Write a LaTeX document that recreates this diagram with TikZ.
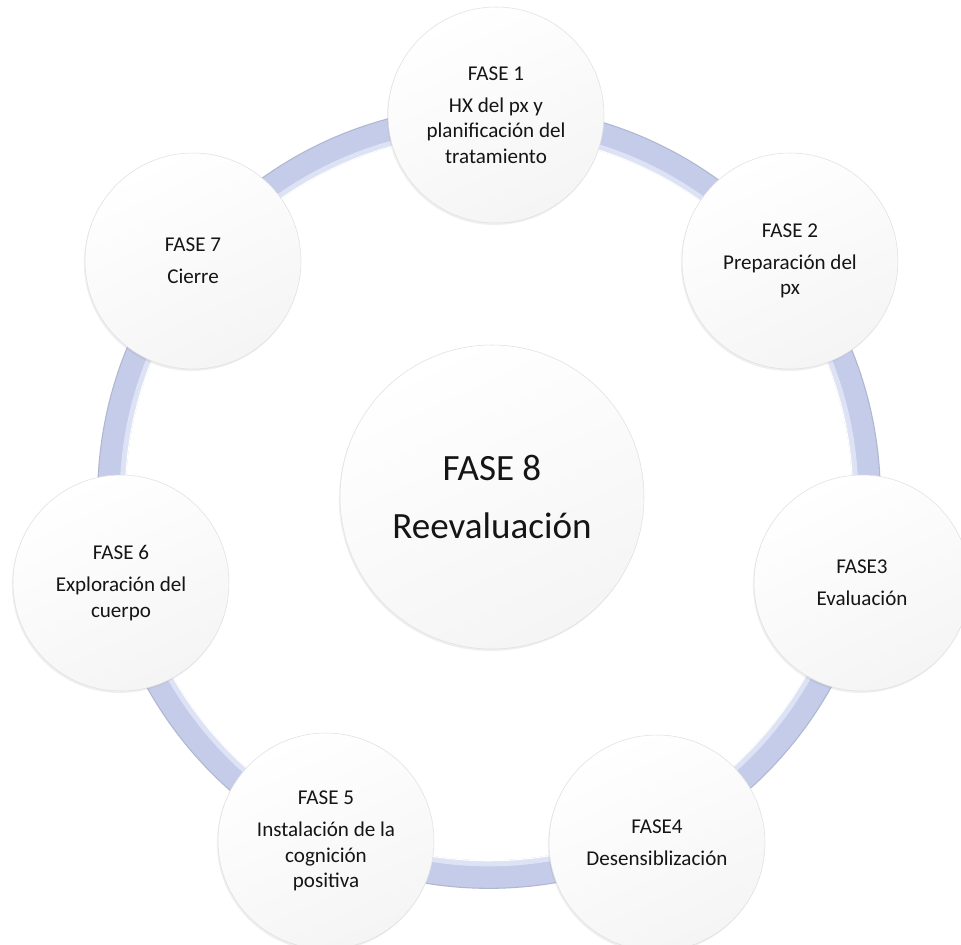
\documentclass[tikz,border=0pt]{standalone}
\usepackage{fontspec}
\setmainfont{Carlito}
\usetikzlibrary{shadows}
\definecolor{ringmain}{HTML}{C4CCE9}
\definecolor{ringedge}{HTML}{B0B7D0}
\definecolor{ringlight}{HTML}{DDE3F5}
\definecolor{txt}{HTML}{151515}
\begin{document}
\begin{tikzpicture}[x=0.75pt,y=-0.75pt,
  phase/.style={circle, minimum size=162pt, inner sep=0pt, align=center,
    text=txt, font=\fontsize{15.8}{19}\selectfont,
    draw=black!12, line width=0.4pt,
    top color=white, bottom color=black!4, shading angle=25,
    drop shadow={opacity=0.12, shadow xshift=-0.8pt, shadow yshift=-1.5pt}},
  hub/.style={phase, minimum size=228pt, font=\fontsize{27.8}{32}\selectfont},
  ringband/.style={line width=21pt, ringmain},
  ringrim/.style={line width=0.8pt, ringedge},
  ringshine/.style={line width=4pt, ringlight}]
\useasboundingbox (0,0) rectangle (961,945);
\fill[white] (0,0) rectangle (961,945);
\coordinate (o) at (489,497);
% ring
\draw[ringband] (o) circle[radius=283pt];
\draw[ringrim] (o) circle[radius=293.5pt];
\draw[ringshine] (o) circle[radius=275pt];
\draw[white, line width=0.8pt] (o) circle[radius=272.8pt];
% phases
\node[hub]   (c8) at (492,497) {FASE 8\\[11pt]Reevaluación};
\node[phase] (c1) at (496,115) {FASE 1\\[5pt]HX del px y\\planificación del\\tratamiento};
\node[phase] (c2) at (790,261) {FASE 2\\[5pt]Preparación del\\px};
\node[phase] (c3) at (862,583) {FASE3\\[5pt]Evaluación};
\node[phase] (c4) at (657,843) {FASE4\\[5pt]Desensiblización};
\node[phase] (c5) at (326,841) {FASE 5\\[5pt]Instalación de la\\cognición\\positiva};
\node[phase] (c6) at (121,583) {FASE 6\\[5pt]Exploración del\\cuerpo};
\node[phase] (c7) at (193,261) {FASE 7\\[5pt]Cierre};
\end{tikzpicture}
\end{document}
